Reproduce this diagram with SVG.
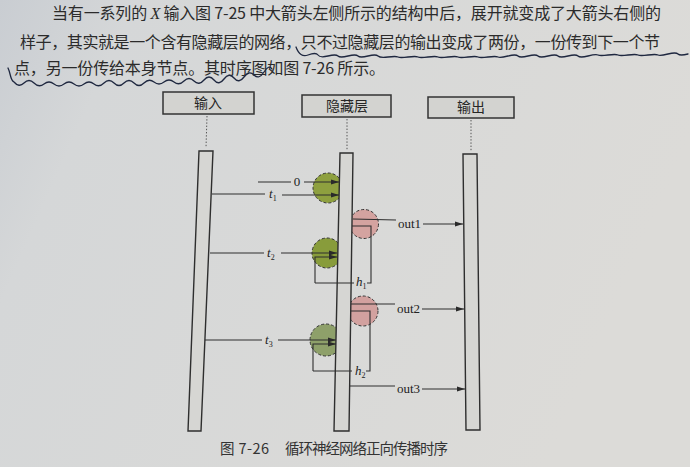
<svg xmlns="http://www.w3.org/2000/svg" width="690" height="467" viewBox="0 0 690 467">
<defs>
<linearGradient id="bg" x1="0" y1="0" x2="1" y2="0.3">
<stop offset="0" stop-color="#c9cdd2"/>
<stop offset="0.18" stop-color="#d5d7d8"/>
<stop offset="1" stop-color="#dcdbd8"/>
</linearGradient>
<marker id="ah" markerUnits="userSpaceOnUse" markerWidth="9" markerHeight="6" refX="8" refY="3" orient="auto">
<path d="M0,0.5 L8,3 L0,5.5 Z" fill="#2a2a2a"/>
</marker>
<style>
.body{font-family:"Noto Sans CJK SC","Noto Sans",sans-serif;font-size:16px;fill:#2b2b2b}
.hdr{font-family:"Noto Sans CJK SC","Noto Sans",sans-serif;font-size:14px;fill:#262626;text-anchor:middle}
.box{fill:#d3d3d0;stroke:#333;stroke-width:1.5}
.bar{fill:#d6d6d3;stroke:#2e2e2e;stroke-width:1.4}
.life{stroke:#555;stroke-width:1;stroke-dasharray:1.4 1.8;fill:none}
.ln{stroke:#2e2e2e;stroke-width:1.1;fill:none}
.arr{stroke:#2e2e2e;stroke-width:1.1;fill:none;marker-end:url(#ah)}
.lbl{font-family:"Liberation Serif",serif;font-size:13px;fill:#222}
.it{font-style:italic}
.g{stroke:#333;stroke-width:1;stroke-dasharray:3 2}
.cap{font-family:"Noto Sans CJK SC","Noto Sans",sans-serif;font-size:14.5px;fill:#333}
.ink{fill:none;stroke:#1f2840;stroke-width:1.3;stroke-linecap:round}
</style>
</defs>
<rect width="690" height="467" fill="url(#bg)"/>

<g id="paragraph">
<text class="body" x="52" y="19" textLength="609" lengthAdjust="spacing">当有一系列的 <tspan font-family="Liberation Serif,serif" font-style="italic">X</tspan> 输入图 7-25 中大箭头左侧所示的结构中后，展开就变成了大箭头右侧的</text>
<text class="body" x="20" y="48" textLength="640" lengthAdjust="spacing">样子，其实就是一个含有隐藏层的网络，只不过隐藏层的输出变成了两份，一份传到下一个节</text>
<text class="body" x="14" y="74" textLength="371" lengthAdjust="spacing">点，另一份传给本身节点。其时序图如图 7-26 所示。</text>
<path class="ink" d="M296,47 Q300,58 308,55 T318,55 T328,56 T338,56 T348,56 T358,56 T368,56 T378,56 T388,57 T398,57 T408,57 T418,57 T428,57 T438,57 T448,57 T458,57 T468,57 T478,57 T488,57 T498,57 T508,56 T518,56 T528,56 T538,56 T548,56 T558,56 T568,56 T578,56 T588,56 T598,55 T608,55 T618,55 T628,55 T638,55 T648,55 T658,55 T668,54 T678,54 T688,54"/>
<path class="ink" d="M8,68 C11,74 10,80 14,82 Q19,88 24,83 T34,83 T44,84 T54,84 T64,84 T74,84 T84,84 T94,84 T104,83 T114,83 T124,83 T134,83 T144,83 T154,82 T164,82 T174,82 T184,81 T194,81 T204,80 T214,80 T224,79 T234,78 T244,77 T254,75 T264,72 T272,69"/>
</g>

<g id="lifelines">
<line class="life" x1="207" y1="116" x2="206" y2="148"/>
<line class="life" x1="347" y1="119" x2="347" y2="151"/>
<line class="life" x1="471" y1="120" x2="471" y2="152"/>
</g>

<g id="node-input">
<rect class="box" x="163" y="92" width="91" height="22"/>
<text class="hdr" x="208" y="108">输入</text>
</g>
<g id="node-hidden">
<rect class="box" x="302" y="95" width="89" height="22"/>
<text class="hdr" x="347" y="111">隐藏层</text>
</g>
<g id="node-output">
<rect class="box" x="428" y="97" width="86" height="21"/>
<text class="hdr" x="471" y="112">输出</text>
</g>

<g id="merge-circles">
<circle class="g" cx="328" cy="188" r="15" fill="#8ea03f"/>
<circle class="g" cx="327" cy="253" r="15" fill="#889c3b"/>
<circle class="g" cx="326" cy="340" r="16" fill="#8ea06a"/>
<circle class="g" cx="364" cy="224" r="14.5" fill="#d4a3a0"/>
<circle class="g" cx="363" cy="311" r="15" fill="#d2a19f"/>
</g>

<g id="bars">
<polygon id="bar-input" class="bar" points="199,151 213,151 201,431 188,431"/>
<polygon id="bar-hidden" class="bar" points="340,153 353,153 349,431 334,431"/>
<polygon id="bar-output" class="bar" points="463,154 477,154 480,430 466,430"/>
</g>

<g id="connectors">
<line class="ln" x1="258" y1="182" x2="291" y2="182"/>
<line class="arr" x1="304" y1="182" x2="339" y2="182"/>
<line class="ln" x1="212" y1="194" x2="265" y2="194"/>
<line class="arr" x1="282" y1="195" x2="339" y2="195"/>

<line class="ln" x1="210" y1="253" x2="264" y2="253"/>
<line class="arr" x1="281" y1="253" x2="337" y2="253"/>

<polyline class="ln" points="352,226 371,226 371,283 367,283"/>
<line class="ln" x1="315" y1="283" x2="354" y2="283"/>
<polyline class="arr" points="315,283 315,257 337,257"/>

<line class="ln" x1="353" y1="219" x2="396" y2="220"/>
<line class="arr" x1="423" y1="224" x2="463" y2="224"/>

<line class="ln" x1="205" y1="340" x2="262" y2="340"/>
<line class="arr" x1="278" y1="340" x2="336" y2="340"/>

<polyline class="ln" points="351,311 370,311 370,371 366,371"/>
<line class="ln" x1="313" y1="371" x2="352" y2="371"/>
<polyline class="arr" points="313,371 313,344 336,344"/>

<line class="ln" x1="351" y1="304" x2="395" y2="304"/>
<line class="arr" x1="422" y1="309" x2="464" y2="309"/>

<line class="ln" x1="350" y1="386" x2="395" y2="386"/>
<line class="arr" x1="422" y1="389" x2="465" y2="389"/>
</g>

<g id="labels">
<text class="lbl" x="297" y="186" text-anchor="middle">0</text>
<text class="lbl" x="269" y="198"><tspan class="it">t</tspan><tspan font-size="8" dy="3">1</tspan></text>
<text class="lbl" x="267" y="257"><tspan class="it">t</tspan><tspan font-size="8" dy="3">2</tspan></text>
<text class="lbl" x="265" y="344"><tspan class="it">t</tspan><tspan font-size="8" dy="3">3</tspan></text>
<text class="lbl" x="356" y="286"><tspan class="it">h</tspan><tspan font-size="8" dy="3">1</tspan></text>
<text class="lbl" x="355" y="375"><tspan class="it">h</tspan><tspan font-size="8" dy="3">2</tspan></text>
<text class="lbl" x="398" y="228">out1</text>
<text class="lbl" x="397" y="313">out2</text>
<text class="lbl" x="397" y="393">out3</text>
</g>

<g id="caption">
<text class="cap" x="220" y="454" textLength="49" lengthAdjust="spacing">图 7-26</text>
<text class="cap" x="285" y="454" textLength="163" lengthAdjust="spacing">循环神经网络正向传播时序</text>
</g>
</svg>
